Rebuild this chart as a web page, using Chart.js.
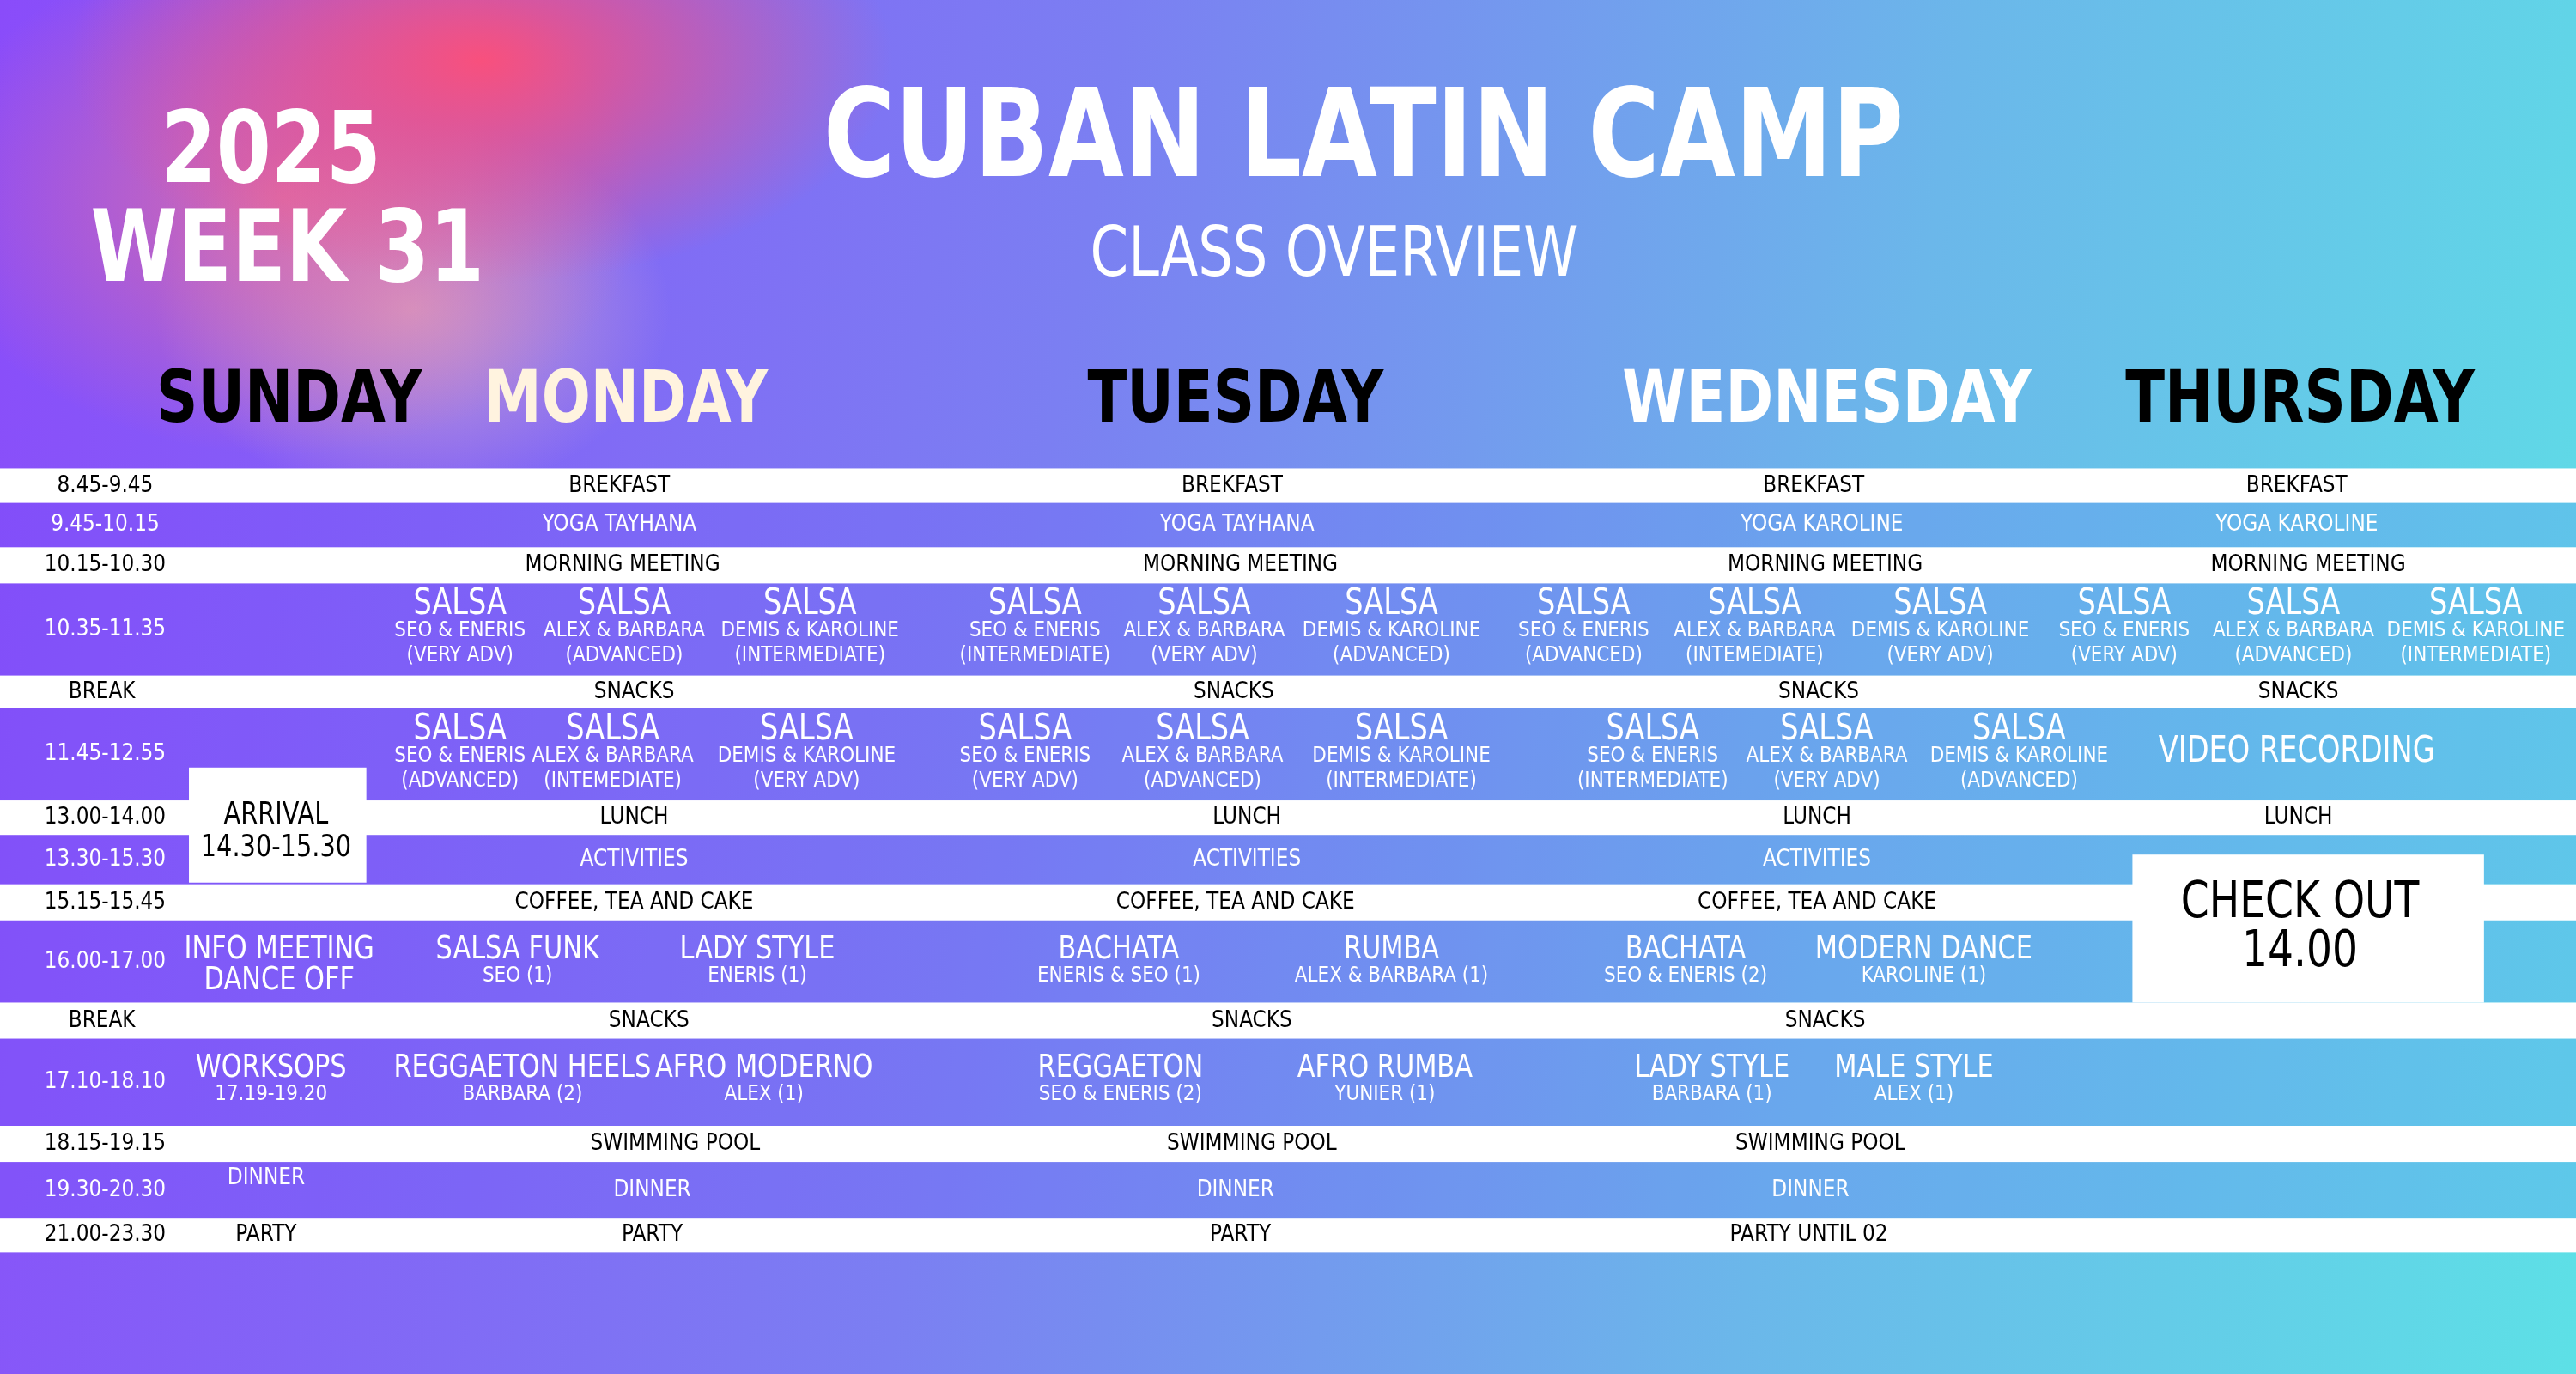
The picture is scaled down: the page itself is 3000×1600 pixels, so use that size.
<!DOCTYPE html>
<html>
<head>
<meta charset="utf-8">
<script src="https://cdn.jsdelivr.net/npm/chart.js@4"></script>
<style>
  html, body { margin: 0; padding: 0; }
  body {
    width: 3000px; height: 1600px; overflow: hidden;
    background:
      radial-gradient(ellipse 480px 260px at 560px 70px, rgba(248,80,125,1), rgba(248,80,125,0) 100%),
      radial-gradient(ellipse 420px 300px at 330px 230px, rgba(240,110,150,0.75), rgba(240,110,150,0) 100%),
      radial-gradient(ellipse 300px 220px at 480px 360px, rgba(250,200,180,0.6), rgba(250,200,180,0) 100%),
      linear-gradient(100deg, #8a4cfa 0%, #7b7ff2 40%, #6bb7ea 70%, #5de0e6 100%);
  }
</style>
</head>
<body>
<canvas id="poster" width="3000" height="1600"></canvas>
<script>
// rows of the timetable (reference units, 1568 x 836 canvas)
const times = ['8.45-9.45', '9.45-10.15', '10.15-10.30', '10.35-11.35', 'BREAK', '11.45-12.55',
  '13.00-14.00', '13.30-15.30', '15.15-15.45', '16.00-17.00', 'BREAK', '17.10-18.10',
  '18.15-19.15', '19.30-20.30', '21.00-23.30'];
const rowWhite = [1, 0, 1, 0, 1, 0, 1, 0, 1, 0, 1, 0, 1, 0, 1];
const rowEdges = [285, 306, 333, 355, 411, 431, 487, 508, 538, 560, 610, 632, 685, 707, 741, 762];

const days = ['SUNDAY', 'MONDAY', 'TUESDAY', 'WEDNESDAY', 'THURSDAY'];
const dayColors = ['#000', '#fff3df', '#000', '#fff', '#000'];
const dayX = [176, 381, 752, 1112, 1400];

// single line cells: [row, x, text]
const simpleCells = [
  [0, 377, 'BREKFAST'], [0, 750, 'BREKFAST'], [0, 1104, 'BREKFAST'], [0, 1398, 'BREKFAST'],
  [1, 377, 'YOGA TAYHANA'], [1, 753, 'YOGA TAYHANA'], [1, 1109, 'YOGA KAROLINE'], [1, 1398, 'YOGA KAROLINE'],
  [2, 379, 'MORNING MEETING'], [2, 755, 'MORNING MEETING'], [2, 1111, 'MORNING MEETING'], [2, 1405, 'MORNING MEETING'],
  [4, 386, 'SNACKS'], [4, 751, 'SNACKS'], [4, 1107, 'SNACKS'], [4, 1399, 'SNACKS'],
  [6, 386, 'LUNCH'], [6, 759, 'LUNCH'], [6, 1106, 'LUNCH'], [6, 1399, 'LUNCH'],
  [7, 386, 'ACTIVITIES'], [7, 759, 'ACTIVITIES'], [7, 1106, 'ACTIVITIES'],
  [8, 386, 'COFFEE, TEA AND CAKE'], [8, 752, 'COFFEE, TEA AND CAKE'], [8, 1106, 'COFFEE, TEA AND CAKE'],
  [10, 395, 'SNACKS'], [10, 762, 'SNACKS'], [10, 1111, 'SNACKS'],
  [12, 411, 'SWIMMING POOL'], [12, 762, 'SWIMMING POOL'], [12, 1108, 'SWIMMING POOL'],
  [13, 162, 'DINNER'], [13, 397, 'DINNER'], [13, 752, 'DINNER'], [13, 1102, 'DINNER'],
  [14, 162, 'PARTY'], [14, 397, 'PARTY'], [14, 755, 'PARTY'], [14, 1101, 'PARTY UNTIL 02']
];

// salsa blocks: [row, x, teachers, level]
const salsaCells = [
  [3, 280, 'SEO & ENERIS', '(VERY ADV)'], [3, 380, 'ALEX & BARBARA', '(ADVANCED)'], [3, 493, 'DEMIS & KAROLINE', '(INTERMEDIATE)'],
  [3, 630, 'SEO & ENERIS', '(INTERMEDIATE)'], [3, 733, 'ALEX & BARBARA', '(VERY ADV)'], [3, 847, 'DEMIS & KAROLINE', '(ADVANCED)'],
  [3, 964, 'SEO & ENERIS', '(ADVANCED)'], [3, 1068, 'ALEX & BARBARA', '(INTEMEDIATE)'], [3, 1181, 'DEMIS & KAROLINE', '(VERY ADV)'],
  [3, 1293, 'SEO & ENERIS', '(VERY ADV)'], [3, 1396, 'ALEX & BARBARA', '(ADVANCED)'], [3, 1507, 'DEMIS & KAROLINE', '(INTERMEDIATE)'],
  [5, 280, 'SEO & ENERIS', '(ADVANCED)'], [5, 373, 'ALEX & BARBARA', '(INTEMEDIATE)'], [5, 491, 'DEMIS & KAROLINE', '(VERY ADV)'],
  [5, 624, 'SEO & ENERIS', '(VERY ADV)'], [5, 732, 'ALEX & BARBARA', '(ADVANCED)'], [5, 853, 'DEMIS & KAROLINE', '(INTERMEDIATE)'],
  [5, 1006, 'SEO & ENERIS', '(INTERMEDIATE)'], [5, 1112, 'ALEX & BARBARA', '(VERY ADV)'], [5, 1229, 'DEMIS & KAROLINE', '(ADVANCED)']
];

// workshop blocks: [row, x, title, sub]
const classCells = [
  [9, 170, 'INFO MEETING', 'DANCE OFF'], [9, 315, 'SALSA FUNK', 'SEO (1)'], [9, 461, 'LADY STYLE', 'ENERIS (1)'],
  [9, 681, 'BACHATA', 'ENERIS & SEO (1)'], [9, 847, 'RUMBA', 'ALEX & BARBARA (1)'],
  [9, 1026, 'BACHATA', 'SEO & ENERIS (2)'], [9, 1171, 'MODERN DANCE', 'KAROLINE (1)'],
  [11, 165, 'WORKSOPS', '17.19-19.20'], [11, 318, 'REGGAETON HEELS', 'BARBARA (2)'], [11, 465, 'AFRO MODERNO', 'ALEX (1)'],
  [11, 682, 'REGGAETON', 'SEO & ENERIS (2)'], [11, 843, 'AFRO RUMBA', 'YUNIER (1)'],
  [11, 1042, 'LADY STYLE', 'BARBARA (1)'], [11, 1165, 'MALE STYLE', 'ALEX (1)']
];

const FONT = '"DejaVu Sans", sans-serif';

const posterPlugin = {
  id: 'poster',
  beforeDatasetsDraw(chart) {
    const { ctx, scales: { x, y } } = chart;
    const k = chart.height / 836;
    const X = v => x.getPixelForValue(v);
    const Y = v => y.getPixelForValue(v);
    // the poster font is condensed, so squeeze text horizontally
    const text = (s, px, py, size, color, weight) => {
      const sq = size >= 18 ? 0.8 : 0.86;
      ctx.save();
      ctx.font = (weight || '') + ' ' + Math.round(size * k) + 'px ' + FONT;
      ctx.fillStyle = color;
      ctx.textAlign = 'center';
      ctx.textBaseline = 'middle';
      ctx.translate(X(px), Y(py));
      ctx.scale(sq, 1);
      ctx.fillText(s, 0, 0);
      ctx.restore();
    };
    ctx.save();

    // row bands
    times.forEach((t, i) => {
      const top = Y(rowEdges[i]), bot = Y(rowEdges[i + 1]);
      ctx.fillStyle = rowWhite[i] ? '#ffffff' : 'rgba(100,70,255,0.14)';
      ctx.fillRect(X(0), top, X(1568) - X(0), bot - top);
      const mid = (rowEdges[i] + rowEdges[i + 1]) / 2;
      text(t, t === 'BREAK' ? 62 : 64, mid, 14, rowWhite[i] ? '#000' : '#fff');
    });

    // white boxes
    ctx.fillStyle = '#fff';
    ctx.fillRect(X(115), Y(467), X(223) - X(115), Y(537) - Y(467));
    ctx.fillRect(X(1298), Y(520), X(1512) - X(1298), Y(610) - Y(520));
    text('ARRIVAL', 168, 496, 19, '#000');
    text('14.30-15.30', 168, 516, 19, '#000');
    text('CHECK OUT', 1400, 550, 31, '#000');
    text('14.00', 1400, 580, 31, '#000');

    simpleCells.forEach(([r, cx, s]) => {
      const mid = (rowEdges[r] + rowEdges[r + 1]) / 2;
      const lift = (r === 13 && cx < 200) ? 7 : 0;
      text(s, cx, mid - lift, 14, rowWhite[r] ? '#000' : '#fff');
    });
    salsaCells.forEach(([r, cx, who, lvl]) => {
      const top = rowEdges[r];
      text('SALSA', cx, top + 13, 22, '#fff');
      text(who, cx, top + 29, 13, '#fff');
      text(lvl, cx, top + 44, 13, '#fff');
    });
    classCells.forEach(([r, cx, title, sub]) => {
      const top = rowEdges[r];
      const big = title === 'INFO MEETING';
      text(title, cx, top + 18, 20, '#fff');
      text(sub, cx, top + (big ? 37 : 34), big ? 20 : 13, '#fff');
    });
    text('VIDEO RECORDING', 1398, 458, 22, '#fff');

    // headings
    text('2025', 165, 95, 60, '#fff', 'bold');
    text('WEEK 31', 175, 155, 60, '#fff', 'bold');
    text('CUBAN LATIN CAMP', 830, 88, 74, '#fff', 'bold');
    text('CLASS OVERVIEW', 812, 157, 42, '#fff');
    days.forEach((d, i) => text(d, dayX[i], 245, 44, dayColors[i], 'bold'));
    ctx.restore();
  }
};

new Chart(document.getElementById('poster'), {
  type: 'scatter',
  data: { datasets: [{ data: [], pointRadius: 0 }] },
  options: {
    responsive: false,
    devicePixelRatio: 1,
    animation: false,
    layout: { padding: 0 },
    plugins: { legend: { display: false }, tooltip: { enabled: false } },
    scales: {
      x: { type: 'linear', min: 0, max: 1568, display: false },
      y: { type: 'linear', min: 0, max: 836, reverse: true, display: false }
    }
  },
  plugins: [posterPlugin]
});
</script>
</body>
</html>
